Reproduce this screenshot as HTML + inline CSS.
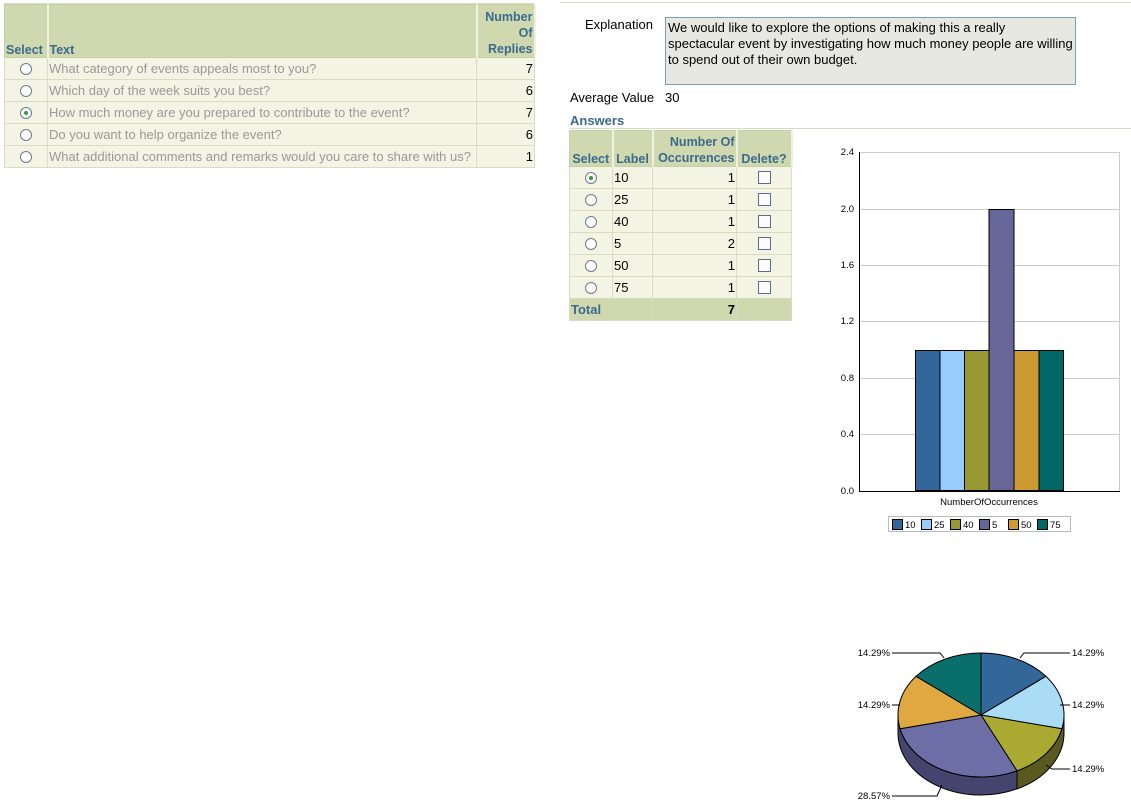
<!DOCTYPE html>
<html><head><meta charset="utf-8"><style>
body{margin:0;width:1131px;height:805px;background:#fff;font-family:"Liberation Sans",Arial,sans-serif;font-size:13px;position:relative;overflow:hidden}
.a{position:absolute;white-space:nowrap}
table{border-collapse:collapse;position:absolute;table-layout:fixed}
td,th{padding:0 1px;border:1px solid #d8dcc4;white-space:nowrap;overflow:hidden}
th{background:#d0d8b0;color:#3c6a8c;font-weight:bold;vertical-align:bottom;border:1px solid #c8cfa8;border-right:2px solid #f0f0e0;font-size:12.5px}
td{background:#f4f4e4;height:21px}
.r{width:10px;height:10px;border:1px solid #6b7b8b;border-radius:50%;margin:0 auto;background:#fff;position:relative}
.r.s::after{content:"";position:absolute;left:3px;top:3px;width:4px;height:4px;border-radius:50%;background:#3a9a3a}
.cb{width:11px;height:11px;border:1px solid #5a6f87;margin:0 auto;background:#fbfbfb}
.g{color:#999}
</style></head><body>
<div class="a" style="left:4px;top:3px;width:530px;border-top:1px solid #d8dcc4"></div>
<table style="left:4px;top:4px;width:530px">
<col style="width:43px"><col style="width:429px"><col style="width:58px">
<tr style="height:53px"><th style="text-align:left">Select</th><th style="text-align:left">Text</th><th style="text-align:right;line-height:16px">Number<br>Of<br>Replies</th></tr>
<tr><td><div class="r"></div></td><td class="g">What category of events appeals most to you?</td><td style="text-align:right">7</td></tr>
<tr><td><div class="r"></div></td><td class="g">Which day of the week suits you best?</td><td style="text-align:right">6</td></tr>
<tr><td><div class="r s"></div></td><td class="g">How much money are you prepared to contribute to the event?</td><td style="text-align:right">7</td></tr>
<tr><td><div class="r"></div></td><td class="g">Do you want to help organize the event?</td><td style="text-align:right">6</td></tr>
<tr><td><div class="r"></div></td><td class="g">What additional comments and remarks would you care to share with us?</td><td style="text-align:right">1</td></tr>
</table>
<div class="a" style="left:560px;top:2px;width:571px;border-top:1px solid #d8dcc4"></div>
<div class="a" style="left:585px;top:17px">Explanation</div>
<div class="a" style="left:665px;top:17px;width:405px;height:62px;background:#e8e8e2;border:1px solid #7f9db9;white-space:normal;padding:2px;line-height:16px">We would like to explore the options of making this a really spectacular event by investigating how much money people are willing to spend out of their own budget.</div>
<div class="a" style="left:570px;top:90px">Average Value</div>
<div class="a" style="left:665px;top:90px">30</div>
<div class="a" style="left:570px;top:113px;color:#3c6a8c;font-weight:bold">Answers</div>
<div class="a" style="left:570px;top:128px;width:561px;border-top:1px solid #d8dcc4"></div>
<table style="left:569px;top:130px;width:222px">
<col style="width:43px"><col style="width:40px"><col style="width:84px"><col style="width:55px">
<tr style="height:36px"><th>Select</th><th>Label</th><th style="line-height:16px;text-align:right">Number Of<br>Occurrences</th><th>Delete?</th></tr>
<tr><td><div class="r s"></div></td><td>10</td><td style="text-align:right">1</td><td><div class="cb"></div></td></tr>
<tr><td><div class="r"></div></td><td>25</td><td style="text-align:right">1</td><td><div class="cb"></div></td></tr>
<tr><td><div class="r"></div></td><td>40</td><td style="text-align:right">1</td><td><div class="cb"></div></td></tr>
<tr><td><div class="r"></div></td><td>5</td><td style="text-align:right">2</td><td><div class="cb"></div></td></tr>
<tr><td><div class="r"></div></td><td>50</td><td style="text-align:right">1</td><td><div class="cb"></div></td></tr>
<tr><td><div class="r"></div></td><td>75</td><td style="text-align:right">1</td><td><div class="cb"></div></td></tr>
<tr><td colspan="2" style="background:#d0d8b0;color:#3c6a8c;font-weight:bold;height:18px">Total</td><td style="background:#d0d8b0;text-align:right;font-weight:bold">7</td><td style="background:#d0d8b0"></td></tr>
</table>
<svg class="a" style="left:0;top:0" width="1131" height="805" font-family="Liberation Sans,Arial,sans-serif" font-size="9.5">
<g stroke="#ccc" stroke-width="1">
<line x1="859" y1="152.5" x2="1119" y2="152.5"/><line x1="859" y1="209.5" x2="1119" y2="209.5"/><line x1="859" y1="265.5" x2="1119" y2="265.5"/><line x1="859" y1="321.5" x2="1119" y2="321.5"/><line x1="859" y1="378.5" x2="1119" y2="378.5"/><line x1="859" y1="434.5" x2="1119" y2="434.5"/><line x1="1119.5" y1="152" x2="1119.5" y2="491"/>
</g>
<g text-anchor="end" fill="#000"><text x="854" y="155">2.4</text><text x="854" y="212">2.0</text><text x="854" y="268">1.6</text><text x="854" y="324">1.2</text><text x="854" y="381">0.8</text><text x="854" y="437">0.4</text><text x="854" y="494">0.0</text></g>
<g stroke="#000" stroke-width="1">
<rect x="915.5" y="350.5" width="24.5" height="140" fill="#336699"/>
<rect x="940" y="350.5" width="24.5" height="140" fill="#99ccff"/>
<rect x="964.5" y="350.5" width="24.5" height="140" fill="#999933"/>
<rect x="989" y="209.5" width="25" height="281" fill="#666699"/>
<rect x="1014" y="350.5" width="25" height="140" fill="#cc9933"/>
<rect x="1039" y="350.5" width="24.5" height="140" fill="#006666"/>
</g>
<line x1="859.5" y1="152" x2="859.5" y2="491" stroke="#000"/><line x1="859" y1="491.5" x2="1120" y2="491.5" stroke="#000"/>
<text x="989" y="505" text-anchor="middle">NumberOfOccurrences</text>
<rect x="888.5" y="516.5" width="182" height="15" fill="#fff" stroke="#bbb"/>
<g stroke="#000"><rect x="892.5" y="519.5" width="10" height="10" fill="#336699"/><rect x="921.5" y="519.5" width="10" height="10" fill="#99ccff"/><rect x="950.5" y="519.5" width="10" height="10" fill="#999933"/><rect x="979.5" y="519.5" width="10" height="10" fill="#666699"/><rect x="1008.5" y="519.5" width="10" height="10" fill="#cc9933"/><rect x="1037.5" y="519.5" width="10" height="10" fill="#006666"/></g>
<g><text x="905" y="528">10</text><text x="934" y="528">25</text><text x="963" y="528">40</text><text x="992" y="528">5</text><text x="1021" y="528">50</text><text x="1050" y="528">75</text></g>
<g stroke="#000" stroke-width="1">
<path d="M1064,715 A83,62 0 0 1 1017,770.9 L1017,788.9 A83,62 0 0 0 1064,733 Z" fill="#5a5a20"/>
<path d="M1017,770.9 A83,62 0 0 1 898,715 L898,733 A83,62 0 0 0 1017,788.9 Z" fill="#44446e"/>
<path d="M981,715 L981,653 A83,62 0 0 1 1045.9,676.3 Z" fill="#336699"/>
<path d="M981,715 L1045.9,676.3 A83,62 0 0 1 1061.9,728.8 Z" fill="#aadcf5"/>
<path d="M981,715 L1061.9,728.8 A83,62 0 0 1 1017,770.9 Z" fill="#aaaa33"/>
<path d="M981,715 L1017,770.9 A83,62 0 0 1 900.1,728.8 Z" fill="#6e6ea6"/>
<path d="M981,715 L900.1,728.8 A83,62 0 0 1 916.1,676.3 Z" fill="#e0a840"/>
<path d="M981,715 L916.1,676.3 A83,62 0 0 1 981,653 Z" fill="#0a6e6a"/>
</g>
<g stroke="#000" fill="none">
<path d="M1020,658 L1024,653 L1070,653"/><path d="M1060,705 L1070,705"/><path d="M1046,765 L1052,769 L1070,769"/>
<path d="M944,658 L940,653 L892,653"/><path d="M900,705 L892,705"/><path d="M942,785 L937,796 L892,796"/>
</g>
<g fill="#000"><text x="1072" y="656">14.29%</text><text x="1072" y="708">14.29%</text><text x="1072" y="772">14.29%</text>
<text x="890" y="656" text-anchor="end">14.29%</text><text x="890" y="708" text-anchor="end">14.29%</text><text x="890" y="799" text-anchor="end">28.57%</text></g>
</svg>
</body></html>
